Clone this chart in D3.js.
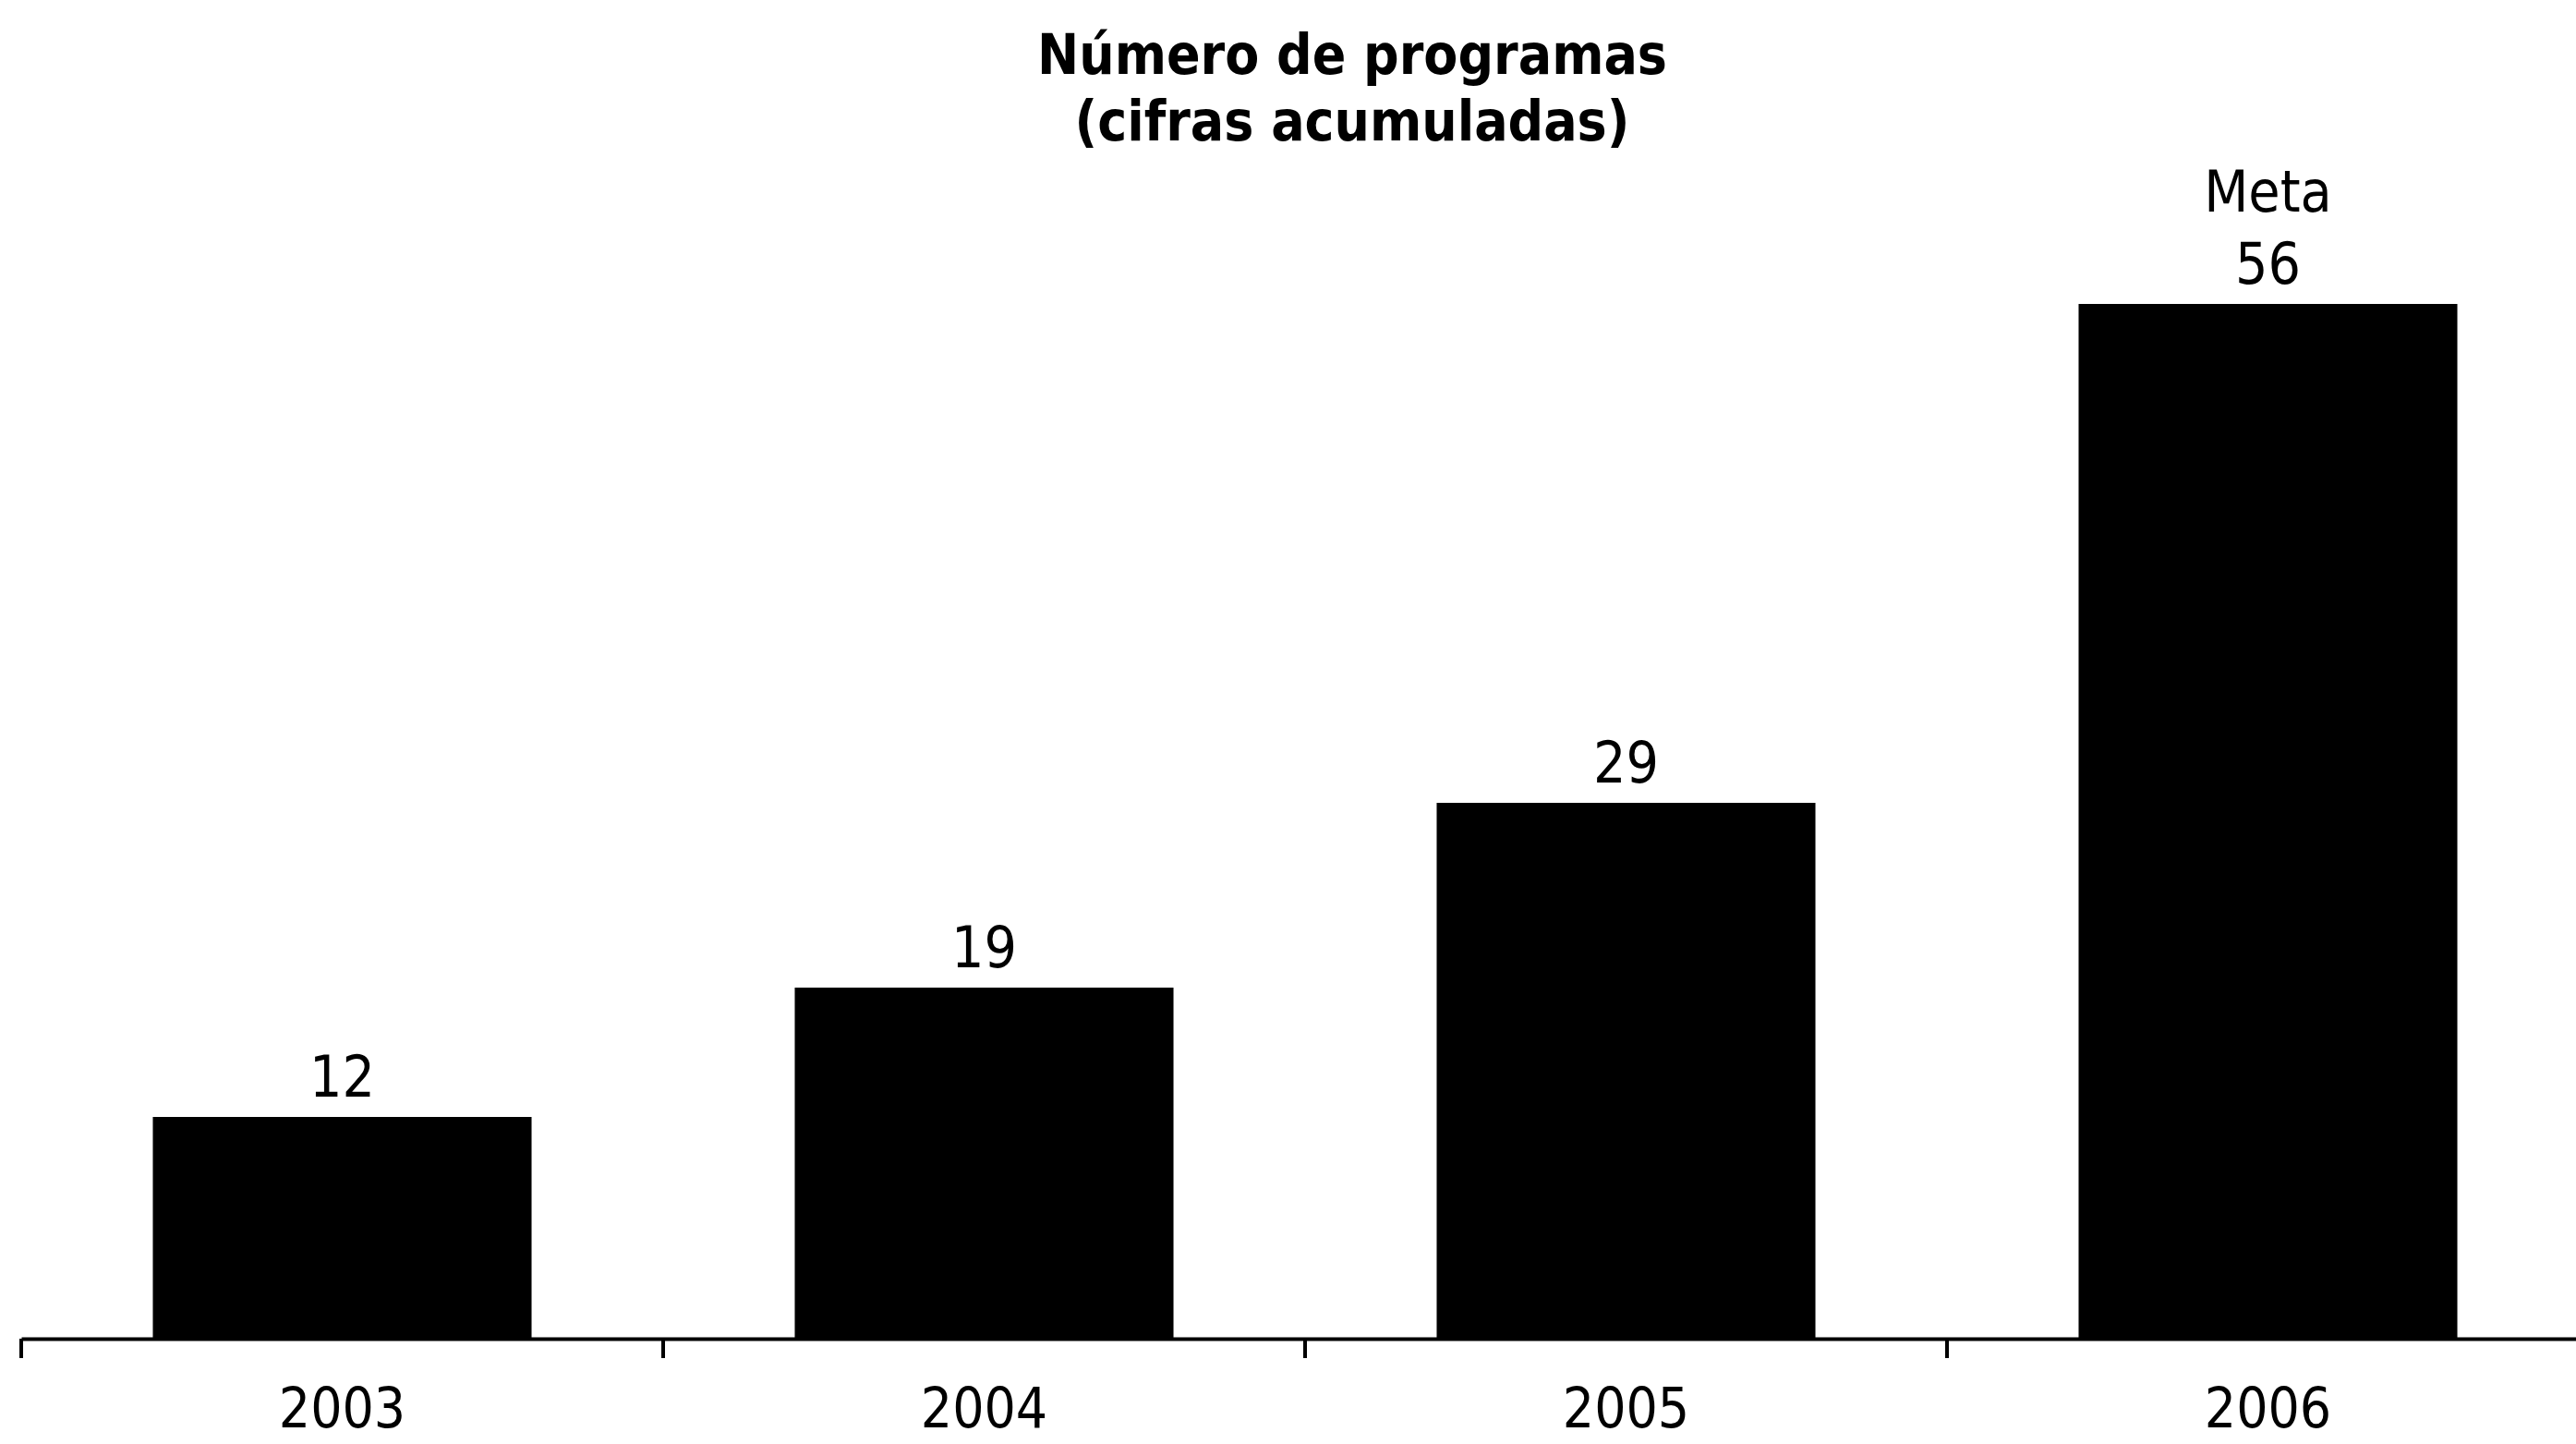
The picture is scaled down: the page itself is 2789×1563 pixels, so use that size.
<!DOCTYPE html>
<html>
<head>
<meta charset="utf-8">
<script src="https://cdn.jsdelivr.net/npm/d3@7"></script>
<style>
  html, body { margin: 0; padding: 0; background: #fff; }
  svg { display: block; }
  text { font-family: "Liberation Sans Narrow", "DejaVu Sans Condensed", "Liberation Sans", sans-serif; fill: #000; }
</style>
</head>
<body>
<svg id="chart" width="2789" height="1563"></svg>
<script>
const titleLines = ["Número de programas", "(cifras acumuladas)"];
const years = ["2003", "2004", "2005", "2006"];
const values = [12, 19, 29, 56];
const valueLabels = ["12", "19", "29", "56"];
const extraLabels = ["", "", "", "Meta"];

const W = 2789, H = 1563;
const svg = d3.select("#chart");

const x = d3.scaleBand().domain(years).range([23, 2803]).padding(0);
const y = d3.scaleLinear().domain([0, 56]).range([1449, 329]);
const barFrac = 0.59;

// Title
svg.append("text")
  .attr("x", 1464).attr("y", 80)
  .attr("text-anchor", "middle")
  .style("font-weight", "bold").style("font-size", "60px")
  .selectAll("tspan").data(titleLines).join("tspan")
  .attr("x", 1464).attr("dy", (d, i) => i === 0 ? 0 : 72)
  .text(d => d);

// Bars
const data = years.map((yr, i) => ({ yr, v: values[i], lab: valueLabels[i], extra: extraLabels[i] }));
svg.selectAll("rect.bar").data(data).join("rect")
  .attr("class", "bar")
  .attr("x", d => x(d.yr) + x.bandwidth() * (1 - barFrac) / 2)
  .attr("width", x.bandwidth() * barFrac)
  .attr("y", d => y(d.v))
  .attr("height", d => y(0) - y(d.v))
  .attr("fill", "#000");

// Value labels
svg.selectAll("text.val").data(data).join("text")
  .attr("class", "val")
  .attr("x", d => x(d.yr) + x.bandwidth() / 2)
  .attr("y", d => y(d.v) - 22)
  .attr("text-anchor", "middle")
  .style("font-size", "62px")
  .text(d => d.lab);

svg.selectAll("text.extra").data(data.filter(d => d.extra)).join("text")
  .attr("class", "extra")
  .attr("x", d => x(d.yr) + x.bandwidth() / 2)
  .attr("y", d => y(d.v) - 100)
  .attr("text-anchor", "middle")
  .style("font-size", "62px")
  .text(d => d.extra);

// X axis
const axisG = svg.append("g").attr("transform", `translate(0,${y(0)})`)
  .call(d3.axisBottom(x).tickSize(0).tickSizeOuter(0));
axisG.attr("font-family", null).attr("font-size", null);
axisG.select(".domain").attr("stroke", "#000").attr("stroke-width", 4);
axisG.selectAll(".tick text")
  .attr("y", 96).attr("dy", 0)
  .style("font-size", "60px");

// Boundary ticks
axisG.selectAll("line.bound").data(years).join("line")
  .attr("class", "bound")
  .attr("x1", d => x(d)).attr("x2", d => x(d))
  .attr("y1", 0).attr("y2", 21)
  .attr("stroke", "#000").attr("stroke-width", 4);
</script>
</body>
</html>
